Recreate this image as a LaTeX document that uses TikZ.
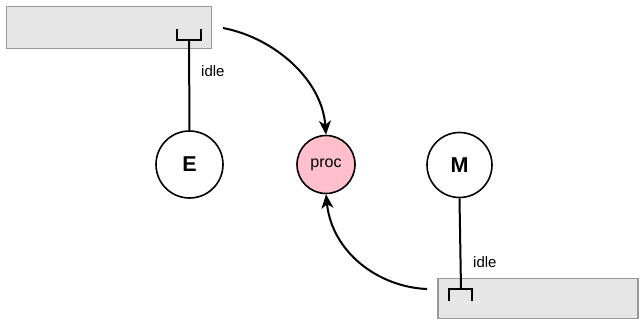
\documentclass[tikz,border=0pt]{standalone}
\usepackage{fontspec}
\setmainfont{Liberation Sans}
\usetikzlibrary{arrows.meta}
\definecolor{boxfill}{HTML}{E6E6E6}
\definecolor{boxline}{HTML}{999999}
\definecolor{procfill}{HTML}{FFC0CB}
\begin{document}
\begin{tikzpicture}[x=1pt,y=-1pt,
  lane/.style={draw=boxline,fill=boxfill,line width=1.8pt,inner sep=0pt},
  state/.style={circle,draw=black,line width=1.6pt,fill=white,inner sep=0pt},
  link/.style={line width=2pt},
  flow/.style={line width=2pt,-{Stealth[length=14pt,width=12pt,inset=4pt]}},
  lbl/.style={font=\fontsize{15}{17}\selectfont,inner sep=0pt}]
\useasboundingbox (0,0) rectangle (641,322);
\node[lane,minimum width=205pt,minimum height=42pt] (top) at (109,27.5) {};
\node[lane,minimum width=200pt,minimum height=40pt] (bot) at (538,298.5) {};
\node[state,minimum size=67pt,font=\fontsize{21.5}{23}\selectfont\bfseries] (E) at (189.5,164.5) {E};
\node[state,minimum size=58pt,fill=procfill,font=\fontsize{16}{18}\selectfont] (proc) at (326,164.5) {proc};
\node[state,minimum size=65pt,font=\fontsize{21.5}{23}\selectfont\bfseries] (M) at (459.5,165) {M};
% brackets
\coordinate (tb) at (189,40);
\draw[link] (177,29) -- (177,40) -- (201,40) -- (201,29);
\draw[link] (tb) -- (E.north);
\coordinate (bb) at (461,289);
\draw[link] (449,301) -- (449,289) -- (472,289) -- (472,301);
\draw[link] (M.south) -- (bb);
\node[lbl,anchor=west] (l1) at (201,71) {idle};
\node[lbl,anchor=west] (l2) at (473,262) {idle};
\coordinate (a1) at (223,28);
\coordinate (a2) at (427,289);
\draw[flow] (a1) .. controls (275,38) and (322,80) .. (proc.north);
\draw[flow] (a2) .. controls (378,287) and (332,252) .. (proc.south);
\end{tikzpicture}
\end{document}
